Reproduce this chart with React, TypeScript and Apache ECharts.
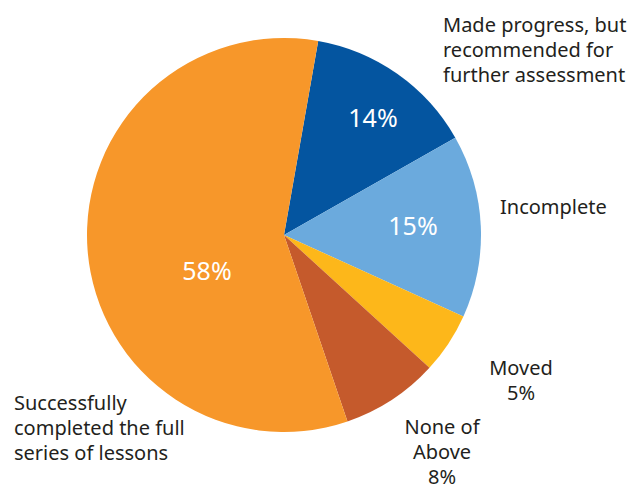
import React, { useEffect, useRef } from "react";
import * as echarts from "echarts";

const categories = [
  "Made progress, but\nrecommended for\nfurther assessment",
  "Incomplete",
  "Moved",
  "None of\nAbove",
  "Successfully\ncompleted the full\nseries of lessons",
];
const values = [14, 15, 5, 8, 58];
const colors = ["#0455A0", "#6BAADD", "#FDB71A", "#C55A2C", "#F7972A"];
const insideLabel = [true, true, false, false, true];

// label anchor positions (layout only)
const insidePos: Record<number, [number, number]> = {
  0: [373, 117],
  1: [413, 225],
  4: [207, 270],
};
const outsidePos: Record<number, { x: number; y: number; align: string }> = {
  0: { x: 443, y: 12, align: "left" },
  1: { x: 500, y: 194, align: "left" },
  2: { x: 521, y: 355, align: "center" },
  3: { x: 442, y: 414, align: "center" },
  4: { x: 14, y: 390, align: "left" },
};

export default function App() {
  const ref = useRef<HTMLDivElement>(null);
  useEffect(() => {
    const chart = echarts.init(ref.current!, null, { renderer: "svg" });
    const font = "'Noto Sans', sans-serif";
    const outerLabelStyle = {
      position: "outside",
      color: "#231F20",
      fontSize: 20,
      lineHeight: 25,
      fontFamily: font,
      overflow: "none",
    };
    const data = categories.map((name, i) => {
      const pct = values[i] + "%";
      const inside = insideLabel[i];
      return {
        name,
        value: values[i],
        itemStyle: { color: colors[i] },
        label: inside
          ? {
              position: "inside",
              formatter: pct,
              color: "#ffffff",
              fontSize: 25,
              fontFamily: font,
            }
          : {
              ...outerLabelStyle,
              formatter: i === 2 || i === 3 ? name + "\n" + pct : name,
              align: outsidePos[i].align,
            },
      };
    });
    // outer name labels for the slices whose percentage sits inside
    const outerData = categories.map((name, i) => ({
      name,
      value: values[i],
      itemStyle: { color: "transparent" },
      label: {
        ...outerLabelStyle,
        show: insideLabel[i],
        formatter: name,
        align: outsidePos[i].align,
      },
    }));
    const common = {
      type: "pie",
      center: [284, 235],
      radius: [0, 197],
      startAngle: 80,
      clockwise: true,
      silent: true,
      labelLine: { show: false },
    };
    chart.setOption({
      animation: false,
      series: [
        {
          ...common,
          data,
          labelLayout: (p: any) => {
            const i = p.dataIndex;
            if (insideLabel[i]) {
              const [x, y] = insidePos[i];
              return { x, y, align: "center", verticalAlign: "middle" };
            }
            const o = outsidePos[i];
            return { x: o.x, y: o.y, align: o.align, verticalAlign: "top" };
          },
        },
        {
          ...common,
          data: outerData,
          labelLayout: (p: any) => {
            const o = outsidePos[p.dataIndex];
            return { x: o.x, y: o.y, align: o.align, verticalAlign: "top" };
          },
        },
      ],
    });
    return () => chart.dispose();
  }, []);
  return (
    <div
      ref={ref}
      style={{ position: "fixed", left: 0, top: 0, width: 636, height: 489, background: "#fff" }}
    />
  );
}
